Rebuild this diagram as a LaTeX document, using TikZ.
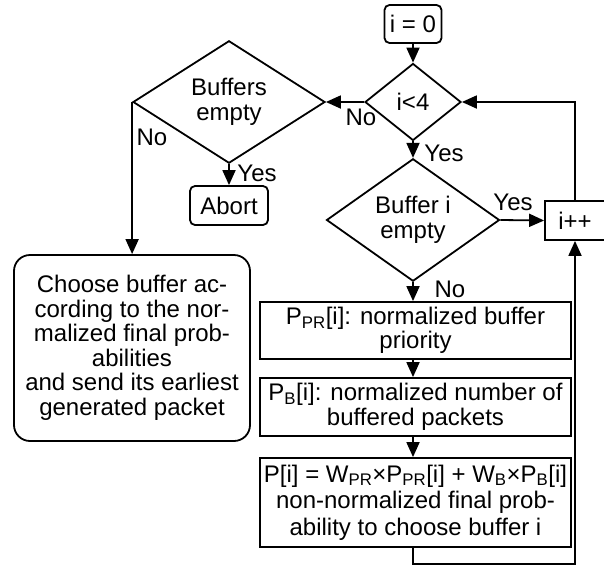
\documentclass[tikz,border=0pt]{standalone}
\usepackage{fontspec}
\setmainfont{Liberation Sans}
\usetikzlibrary{shapes.geometric,arrows.meta}

\tikzset{
  every node/.style={font=\fontsize{24}{24.5}\selectfont},
  arr/.style={-{Triangle[length=15pt,width=13pt]}},
  proc/.style={draw, rectangle, inner sep=0pt, align=center},
  term/.style={draw, rectangle, rounded corners=5pt, inner sep=0pt, align=center},
  decide/.style={draw, diamond, inner sep=0pt, align=center},
  lbl/.style={inner sep=0pt}
}

\begin{document}
\begin{tikzpicture}[x=1pt, y=-1pt, line width=1.8pt]
                \useasboundingbox (0,0) rectangle (604,565);
                % Nodes
                \node[term, minimum width=57pt, minimum height=38pt] (init) at (413, 24) {i = 0};
                \node[decide, minimum width=96pt, minimum height=77pt] (loop) at (413, 102) {i<4};
                \node[decide, minimum width=192pt, minimum height=120pt] (bufsempty) at (229, 102) {Buffers\\empty};
                \node[term, minimum width=78pt, minimum height=39pt] (abort) at (229, 205.5) {Abort};
                \node[term, rounded corners=16pt, minimum width=236pt, minimum height=186pt] (choose) at (132, 348)
                    {Choose buffer ac-\\cording to the nor-\\malized final prob-\\abilities\\and send its earliest\\generated packet};
                \node[decide, minimum width=173pt, minimum height=120pt] (bufi) at (413, 220) {Buffer i\\empty};
                \node[proc, minimum width=60pt, minimum height=39pt] (incr) at (575, 220.5) {i++};
                \node[proc, minimum width=311pt, minimum height=57pt] (ppr) at (415.5, 330.5)
                    {P\textsubscript{PR}[i]: normalized buffer\\priority};
                \node[proc, minimum width=311pt, minimum height=58pt] (pb) at (415.5, 407)
                    {P\textsubscript{B}[i]: normalized number of\\buffered packets};
                \node[proc, minimum width=311pt, minimum height=89pt, font=\fontsize{24}{26.5}\selectfont] (pfin) at (415.5, 502.5)
                    {P[i] = W\textsubscript{PR}×P\textsubscript{PR}[i] + W\textsubscript{B}×P\textsubscript{B}[i]\\non-normalized final prob-\\ability to choose buffer i};

                % Labels
                \node[lbl] (nol) at (361, 117) {No};
                \node[lbl] (yesl) at (444, 153) {Yes};
                \node[lbl] (yesr) at (513, 202) {Yes};
                \node[lbl] (yesa) at (257, 173) {Yes};
                \node[lbl] (nob) at (152, 137) {No};
                \node[lbl] (nop) at (450, 289) {No};

                % Connectors
                \draw[arr] (init) -- (loop);
                \draw[arr] (loop.west) -- (bufsempty.east);
                \draw[arr] (bufsempty.south) -- (abort.north);
                \draw[arr] (bufsempty.west) -- (bufsempty.west |- choose.north);
                \draw[arr] (loop.south) -- (bufi.north);
                \draw[arr] (bufi.east) -- (incr.west);
                \draw[arr] (incr.north) |- (loop.east);
                \draw[arr] (bufi.south) -- (bufi.south |- ppr.north);
                \draw[arr] (bufi.south |- ppr.south) -- (bufi.south |- pb.north);
                \draw[arr] (bufi.south |- pb.south) -- (bufi.south |- pfin.north);
                \draw[arr] (bufi.south |- pfin.south) -- ++(0,16) -| (incr.south);
            \end{tikzpicture}
\end{document}
